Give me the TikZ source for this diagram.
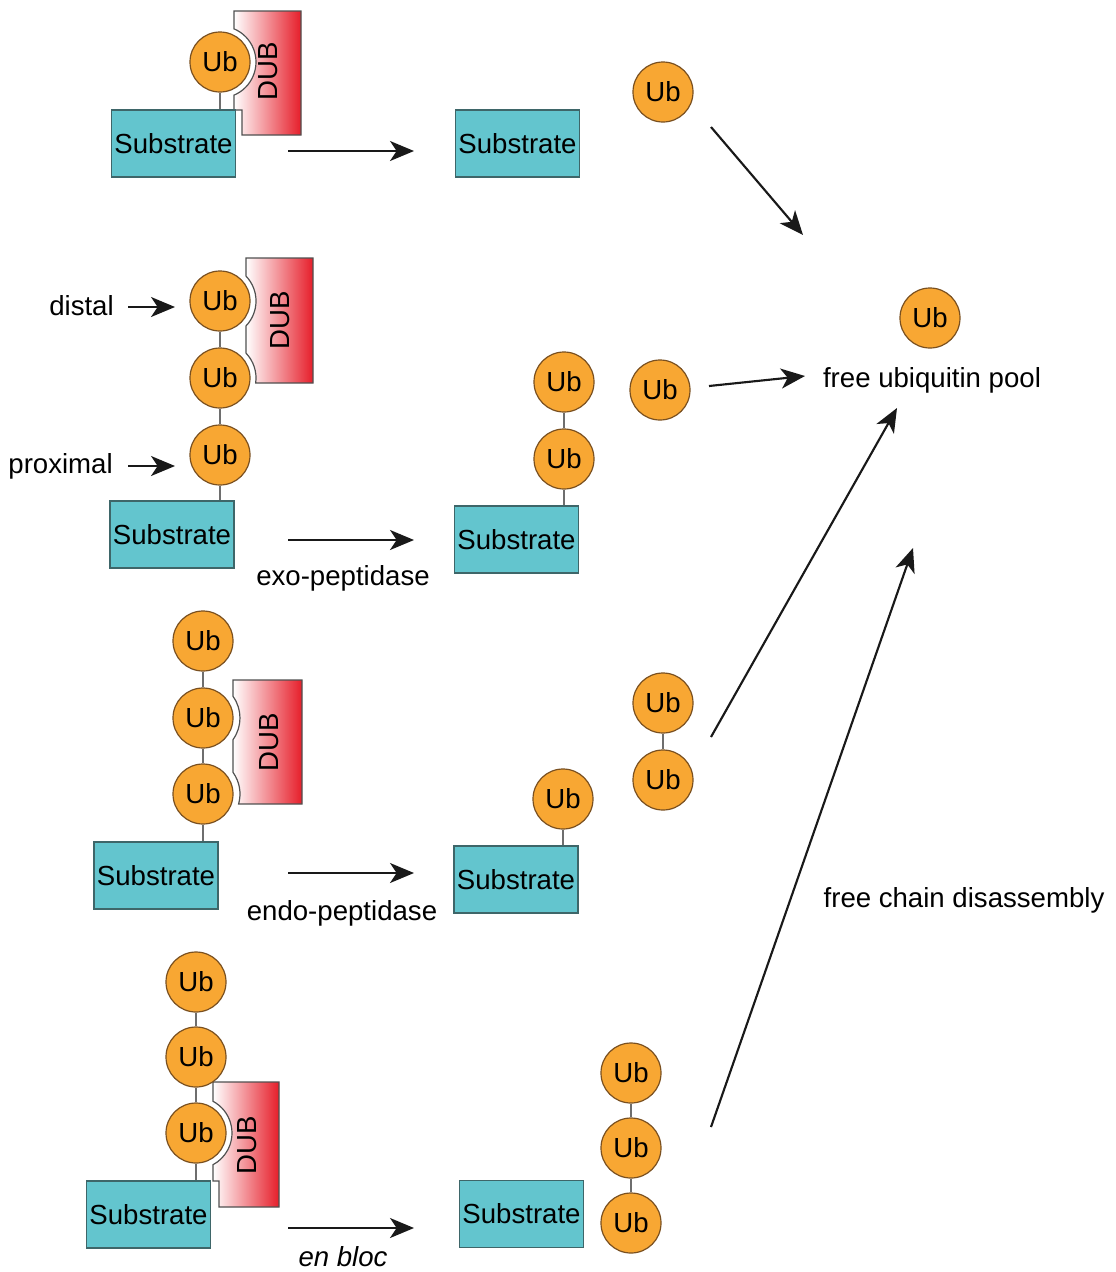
\documentclass[tikz,border=0pt]{standalone}
\usepackage{fontspec}
\setmainfont{Liberation Sans}
\usetikzlibrary{arrows.meta}
\definecolor{ubfill}{HTML}{F8A733}
\definecolor{ubdraw}{HTML}{7A5020}
\definecolor{subfill}{HTML}{63C5CE}
\definecolor{subdraw}{HTML}{3E6669}
\definecolor{dubred}{HTML}{E61E2A}
\definecolor{linkgray}{HTML}{6E6E6E}
\definecolor{dubdraw}{HTML}{505050}
\begin{document}
\begin{tikzpicture}[x=0.75pt,y=-0.75pt,
  font=\fontsize{20.7}{24}\selectfont,
  ub/.style={circle,fill=ubfill,draw=ubdraw,line width=0.9pt,minimum size=45pt,inner sep=0pt},
  sub/.style={rectangle,fill=subfill,draw=subdraw,line width=0.9pt,minimum width=93pt,minimum height=50.25pt,inner sep=0pt},
  dub/.style={left color=white,right color=dubred,draw=dubdraw,line width=0.9pt},
  dubtxt/.style={rotate=90,inner sep=0pt},
  link/.style={draw=linkgray,line width=1pt},
  flow/.style={line width=1.6pt,draw=black!90,-{Stealth[length=18pt,width=15pt,inset=5pt]}},
  lbl/.style={inner sep=0pt}]

\useasboundingbox (0,0) rectangle (1115,1272);

% ---------- DUB shapes ----------
\path[dub] (234,11) -- (234,28.83) arc[start angle=-67.1,end angle=67.1,radius=36]
  -- (234,110) -- (242,110) -- (242,135) -- (301,135) -- (301,11) -- cycle;
\path[dub] (246,258) -- (246,276.1) arc[start angle=-43.8,end angle=43.8,radius=36]
  -- (246,353.1) arc[start angle=-43.8,end angle=7.98,radius=36]
  -- (313,383) -- (313,258) -- cycle;
\path[dub] (233,680) -- (233,696.34) arc[start angle=-35.8,end angle=35.8,radius=37]
  -- (233,772.34) arc[start angle=-35.8,end angle=15.68,radius=37]
  -- (302,804) -- (302,680) -- cycle;
\path[dub] (213,1082) -- (213,1101.27) arc[start angle=-61.8,end angle=61.8,radius=36]
  -- (213,1181) -- (219,1181) -- (219,1207) -- (279,1207) -- (279,1082) -- cycle;
\node[dubtxt] (d1) at (268,71) {DUB};
\node[dubtxt] (d2) at (280,320) {DUB};
\node[dubtxt] (d3) at (269,742) {DUB};
\node[dubtxt] (d4) at (247,1145) {DUB};

% ---------- Panel 1 ----------
\node[sub] (s1a) at (173.5,143.5) {Substrate};
\node[ub] (u1a) at (220,62) {Ub};
\node[sub] (s1b) at (517.5,143.5) {Substrate};
\node[ub] (u1b) at (663,92) {Ub};
\draw[link] (u1a.south) -- (u1a.south |- s1a.north);

% ---------- Panel 2 ----------
\node[sub] (s2a) at (172,534.5) {Substrate};
\node[ub] (u2a1) at (220,301) {Ub};
\node[ub] (u2a2) at (220,378) {Ub};
\node[ub] (u2a3) at (220,455) {Ub};
\draw[link] (u2a1) -- (u2a2);
\draw[link] (u2a2) -- (u2a3);
\draw[link] (u2a3.south) -- (u2a3.south |- s2a.north);
\node[sub] (s2b) at (516.5,539.5) {Substrate};
\node[ub] (u2b1) at (564,382) {Ub};
\node[ub] (u2b2) at (564,459) {Ub};
\draw[link] (u2b1) -- (u2b2);
\draw[link] (u2b2.south) -- (u2b2.south |- s2b.north);
\node[ub] (u2c) at (660,390) {Ub};
\node[lbl,anchor=base east] (distal) at (114,315) {distal};
\node[lbl,anchor=base east] (proximal) at (113,473) {proximal};

% ---------- Panel 3 ----------
\node[sub] (s3a) at (156,875.5) {Substrate};
\node[ub] (u3a1) at (203,641) {Ub};
\node[ub] (u3a2) at (203,718) {Ub};
\node[ub] (u3a3) at (203,794) {Ub};
\draw[link] (u3a1) -- (u3a2);
\draw[link] (u3a2) -- (u3a3);
\draw[link] (u3a3.south) -- (u3a3.south |- s3a.north);
\node[sub] (s3b) at (516,879.5) {Substrate};
\node[ub] (u3b) at (563,799) {Ub};
\draw[link] (u3b.south) -- (u3b.south |- s3b.north);
\node[ub] (u3c1) at (663,703) {Ub};
\node[ub] (u3c2) at (663,780) {Ub};
\draw[link] (u3c1) -- (u3c2);

% ---------- Panel 4 ----------
\node[sub] (s4a) at (148.5,1214.5) {Substrate};
\node[ub] (u4a1) at (196,982) {Ub};
\node[ub] (u4a2) at (196,1057) {Ub};
\node[ub] (u4a3) at (196,1133) {Ub};
\draw[link] (u4a1) -- (u4a2);
\draw[link] (u4a2) -- (u4a3);
\draw[link] (u4a3.south) -- (u4a3.south |- s4a.north);
\node[sub] (s4b) at (521.5,1214) {Substrate};
\node[ub] (u4b1) at (631,1073) {Ub};
\node[ub] (u4b2) at (631,1148) {Ub};
\node[ub] (u4b3) at (631,1223) {Ub};
\draw[link] (u4b1) -- (u4b2);
\draw[link] (u4b2) -- (u4b3);

% ---------- pool ----------
\node[ub] (pool) at (930,318) {Ub};
\node[lbl] (pooltxt) at (932,380) {free ubiquitin pool};
\node[lbl] (chaintxt) at (964,900) {free chain disassembly};

% ---------- labels ----------
\node[lbl] (exo) at (343,578) {exo-peptidase};
\node[lbl] (endo) at (342,913) {endo-peptidase};
\node[lbl,anchor=base] (enbloc) at (343,1266) {\itshape en bloc};

% ---------- arrows ----------
\coordinate (a1s) at (288,151);  \coordinate (a1e) at (414,151);
\coordinate (b1s) at (711,127);  \coordinate (b1e) at (803,235);
\coordinate (a2s) at (288,540);  \coordinate (a2e) at (414,540);
\coordinate (b2s) at (709,386);  \coordinate (b2e) at (805,376);
\coordinate (a3s) at (288,873);  \coordinate (a3e) at (414,873);
\coordinate (b3s) at (711,737);  \coordinate (b3e) at (897,408);
\coordinate (a4s) at (288,1228); \coordinate (a4e) at (414,1228);
\coordinate (b4s) at (711,1127); \coordinate (b4e) at (913,548);
\coordinate (ds) at (128,307);   \coordinate (de) at (175,307);
\coordinate (ps) at (128,466);   \coordinate (pe) at (175,466);
\draw[flow] (a1s) -- (a1e);
\draw[flow] (b1s) -- (b1e);
\draw[flow] (a2s) -- (a2e);
\draw[flow] (b2s) -- (b2e);
\draw[flow] (a3s) -- (a3e);
\draw[flow] (b3s) -- (b3e);
\draw[flow] (a4s) -- (a4e);
\draw[flow] (b4s) -- (b4e);
\draw[flow] (ds) -- (de);
\draw[flow] (ps) -- (pe);
\end{tikzpicture}
\end{document}
